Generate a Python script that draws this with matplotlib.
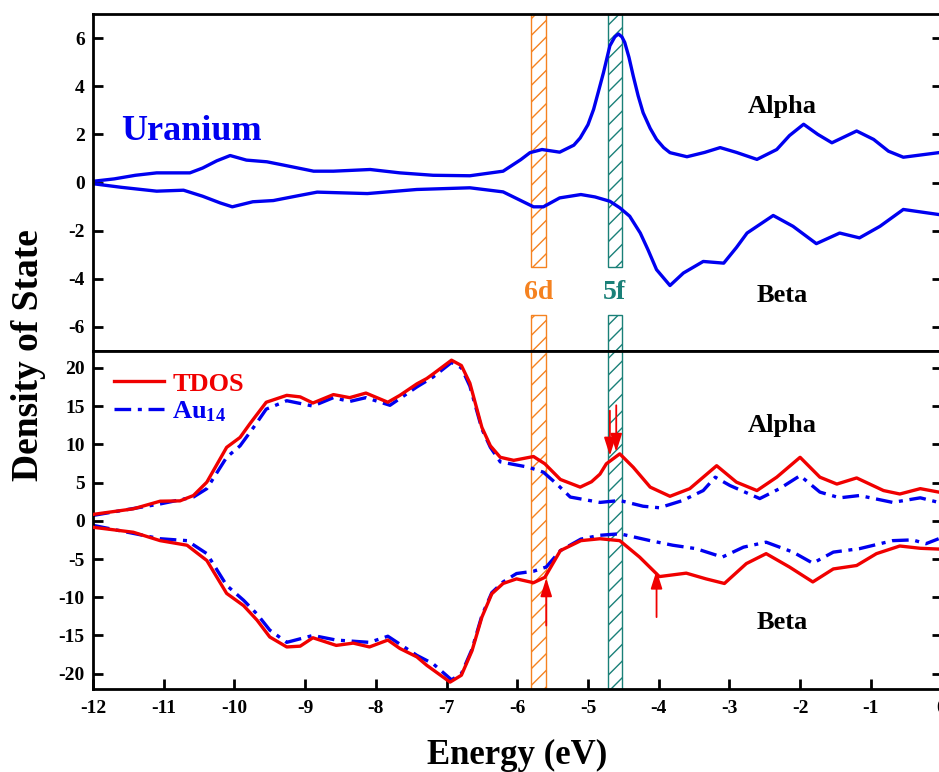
import matplotlib
matplotlib.use("Agg")
import matplotlib.pyplot as plt
from matplotlib.patches import Rectangle

plt.rcParams['font.family'] = ['Liberation Serif', 'DejaVu Serif']
plt.rcParams['font.weight'] = 'bold'
plt.rcParams['axes.unicode_minus'] = False
plt.rcParams['mathtext.fontset'] = 'custom'
plt.rcParams['mathtext.rm'] = 'Liberation Serif:bold'
plt.rcParams['mathtext.it'] = 'Liberation Serif:bold'
plt.rcParams['mathtext.bf'] = 'Liberation Serif:bold'

# top panel: uranium alpha / beta
e_u_alpha = [-12, -11.7, -11.4, -11.1, -10.63, -10.45, -10.25, -10.06, -9.83, -9.54, -9.3,
             -8.88, -8.6, -8.08, -7.66, -7.19, -6.67, -6.2, -5.95, -5.82, -5.65, -5.4,
             -5.2, -5.11, -5.0, -4.92, -4.85, -4.78, -4.69, -4.62, -4.57, -4.52, -4.48,
             -4.42, -4.36, -4.29, -4.22, -4.12, -4.03, -3.93, -3.84, -3.6, -3.35, -3.13,
             -2.9, -2.61, -2.33, -2.15, -1.95, -1.75, -1.55, -1.2, -0.96, -0.75, -0.54, -0.04]
u_alpha = [0.05, 0.15, 0.3, 0.4, 0.4, 0.6, 0.9, 1.12, 0.93, 0.86, 0.72,
           0.47, 0.47, 0.54, 0.4, 0.3, 0.28, 0.47, 0.95, 1.24, 1.37, 1.26,
           1.55, 1.85, 2.4, 3.04, 3.8, 4.57, 5.68, 6.05, 6.17, 6.05, 5.82,
           5.2, 4.43, 3.6, 2.9, 2.25, 1.79, 1.45, 1.24, 1.07, 1.25, 1.45,
           1.25, 0.96, 1.37, 1.95, 2.42, 2.0, 1.65, 2.14, 1.79, 1.3, 1.05, 1.24]

e_u_beta = [-12, -11.6, -11.1, -10.72, -10.45, -10.2, -10.03, -9.74, -9.45, -9.1, -8.83,
            -8.12, -7.42, -6.67, -6.2, -5.95, -5.77, -5.63, -5.4, -5.1, -4.9, -4.69,
            -4.55, -4.41, -4.26, -4.15, -4.03, -3.84, -3.65, -3.37, -3.08, -2.9, -2.75,
            -2.38, -2.1, -1.77, -1.44, -1.16, -0.87, -0.54, -0.04]
u_beta = [-0.05, -0.2, -0.36, -0.32, -0.57, -0.85, -1.01, -0.8, -0.75, -0.55, -0.4,
          -0.46, -0.29, -0.22, -0.39, -0.75, -1.01, -1.01, -0.64, -0.5, -0.6, -0.78,
          -1.05, -1.4, -2.1, -2.8, -3.62, -4.28, -3.76, -3.28, -3.35, -2.7, -2.1,
          -1.37, -1.82, -2.54, -2.1, -2.3, -1.82, -1.12, -1.33]

# bottom panel: TDOS and Au14
e_tdos_alpha = [-12, -11.43, -11.05, -10.77, -10.58, -10.39, -10.11, -9.92, -9.78, -9.55,
                -9.26, -9.07, -8.89, -8.6, -8.37, -8.14, -7.83, -7.66, -7.42, -7.28, -7.19,
                -6.93, -6.79, -6.67, -6.5, -6.38, -6.24, -6.05, -5.77, -5.61, -5.39, -5.11,
                -4.95, -4.83, -4.74, -4.55, -4.36, -4.12, -3.84, -3.56, -3.18, -2.9, -2.61,
                -2.33, -2.0, -1.72, -1.48, -1.2, -0.82, -0.59, -0.3, -0.04]
tdos_alpha = [0.83, 1.56, 2.56, 2.6, 3.3, 5.05, 9.6, 10.9, 12.7, 15.5,
              16.4, 16.2, 15.4, 16.5, 16.1, 16.7, 15.5, 16.4, 17.9, 18.6, 19.2,
              21.0, 20.3, 18.0, 12.2, 9.8, 8.3, 7.9, 8.4, 7.45, 5.4, 4.4,
              5.1, 6.1, 7.45, 8.75, 7.0, 4.4, 3.2, 4.2, 7.2, 5.05, 3.95,
              5.7, 8.3, 5.7, 4.8, 5.6, 3.95, 3.5, 4.2, 3.75]

e_au_alpha = [-12, -11.05, -10.58, -10.39, -10.11, -9.92, -9.73, -9.55, -9.26, -8.89,
              -8.6, -8.37, -8.14, -7.8, -7.42, -7.19, -6.93, -6.79, -6.67, -6.5, -6.38,
              -6.24, -5.84, -5.63, -5.44, -5.25, -4.83, -4.55, -4.22, -3.99, -3.66, -3.37,
              -3.2, -2.99, -2.57, -2.29, -2.0, -1.72, -1.44, -1.16, -0.69, -0.3, -0.04]
au_alpha = [0.7, 2.2, 3.1, 4.2, 8.3, 9.8, 12.2, 14.6, 15.7, 15.0,
            16.1, 15.6, 16.1, 15.1, 17.5, 18.8, 20.7, 20.0, 17.6, 12.0, 9.6,
            7.7, 7.0, 6.35, 4.8, 3.1, 2.4, 2.65, 1.9, 1.7, 2.65, 3.95,
            5.7, 4.6, 2.9, 4.2, 5.9, 3.75, 3.0, 3.3, 2.4, 3.0, 2.4]

e_tdos_beta = [-12, -11.43, -11.05, -10.67, -10.39, -10.11, -9.87, -9.68, -9.5, -9.26,
               -9.07, -8.89, -8.56, -8.32, -8.09, -7.83, -7.66, -7.42, -7.28, -6.95, -6.79,
               -6.64, -6.5, -6.36, -6.2, -6.01, -5.77, -5.61, -5.39, -5.1, -4.83, -4.55,
               -4.27, -3.99, -3.61, -3.33, -3.07, -2.76, -2.48, -2.15, -1.82, -1.53, -1.2,
               -0.92, -0.59, -0.3, -0.04]
tdos_beta = [-0.85, -1.5, -2.6, -3.2, -5.2, -9.5, -11.1, -13.0, -15.2, -16.5,
             -16.4, -15.3, -16.3, -16.0, -16.5, -15.6, -16.7, -17.8, -18.9, -21.1, -20.2,
             -17.0, -12.6, -9.55, -8.2, -7.6, -8.1, -7.4, -3.9, -2.6, -2.35, -2.6,
             -4.75, -7.3, -6.85, -7.6, -8.2, -5.6, -4.3, -6.05, -8.0, -6.3, -5.85,
             -4.3, -3.3, -3.6, -3.7]

e_au_beta = [-12, -11.05, -10.67, -10.39, -10.11, -9.87, -9.68, -9.5, -9.26, -8.89,
             -8.56, -8.09, -7.83, -7.42, -7.19, -6.93, -6.79, -6.64, -6.5, -6.36, -6.2,
             -6.01, -5.77, -5.59, -5.39, -5.1, -4.83, -4.55, -4.12, -3.8, -3.47, -3.1,
             -2.8, -2.48, -2.1, -1.82, -1.53, -1.16, -0.69, -0.41, -0.22, -0.04]
au_beta = [-0.6, -2.35, -2.6, -4.3, -8.45, -10.4, -12.2, -14.3, -15.9, -15.0,
           -15.6, -15.9, -15.1, -17.6, -18.7, -20.8, -20.0, -16.8, -12.4, -9.4, -8.0,
           -6.9, -6.6, -6.05, -3.9, -2.4, -1.9, -1.7, -2.6, -3.2, -3.65, -4.75,
           -3.45, -2.8, -4.1, -5.55, -4.1, -3.65, -2.6, -2.5, -3.0, -2.35]

# orbital bands
band_names = ['6d', '5f']
band_lo = [-5.8, -4.72]
band_hi = [-5.6, -4.52]
band_colors = ['#F58220', '#1A8078']

# red arrows (x, tail y, head y)
arrow_x = [-4.69, -4.60, -5.59, -4.03]
arrow_tail = [14.4, 15.1, -13.7, -12.6]
arrow_head = [8.5, 9.0, -7.5, -6.5]

blue = '#0000F0'
red = '#F00000'
dashdot = (0, (5, 2, 1.2, 2))

fig = plt.figure(figsize=(9.39, 7.72), dpi=100)
W, H = 939.0, 772.0
x0, x1 = 93 / W, 941.5 / W
ax1 = fig.add_axes([x0, (H - 351) / H, x1 - x0, 337 / H])
ax2 = fig.add_axes([x0, (H - 689) / H, x1 - x0, 338 / H])

ax1.plot(e_u_alpha, u_alpha, color=blue, lw=2.4, solid_joinstyle='round')
ax1.plot(e_u_beta, u_beta, color=blue, lw=2.4, solid_joinstyle='round')

ax2.plot(e_tdos_alpha, tdos_alpha, color=red, lw=2.4, label='TDOS', zorder=3,
         solid_joinstyle='round')
ax2.plot(e_au_alpha, au_alpha, color=blue, lw=2.4, ls=dashdot, label='Au$_{14}$', zorder=2)
ax2.plot(e_tdos_beta, tdos_beta, color=red, lw=2.4, zorder=3, solid_joinstyle='round')
ax2.plot(e_au_beta, au_beta, color=blue, lw=2.4, ls=dashdot, zorder=2)

for name, lo, hi, c in zip(band_names, band_lo, band_hi, band_colors):
    # top panel: band broken around the label
    ax1.add_patch(Rectangle((lo, -3.5), hi - lo, 10.5, fill=False, hatch='//',
                            edgecolor=c, lw=1.0, zorder=1))
    ax1.add_patch(Rectangle((lo, -7), hi - lo, 1.5, fill=False, hatch='//',
                            edgecolor=c, lw=1.0, zorder=1))
    ax1.text((lo + hi) / 2, -4.55, name, color=c, fontsize=20, ha='center',
             va='center', fontweight='bold')
    ax2.add_patch(Rectangle((lo, -22), hi - lo, 44.2, fill=False, hatch='//',
                            edgecolor=c, lw=1.0, zorder=1))

for xa, yt, yh in zip(arrow_x, arrow_tail, arrow_head):
    ax2.annotate('', xy=(xa, yh), xytext=(xa, yt),
                 arrowprops=dict(arrowstyle='-|>,head_length=1.1,head_width=0.35',
                                 color=red, lw=1.3, shrinkA=0, shrinkB=0), zorder=4)

ax1.text(-11.6, 2.1, 'Uranium', color=blue, fontsize=26, ha='left', va='center',
         fontweight='bold')
ax1.text(-2.25, 3.15, 'Alpha', fontsize=19, ha='center', va='center', fontweight='bold')
ax1.text(-2.25, -4.7, 'Beta', fontsize=19, ha='center', va='center', fontweight='bold')
ax2.text(-2.25, 12.4, 'Alpha', fontsize=19, ha='center', va='center', fontweight='bold')
ax2.text(-2.25, -13.3, 'Beta', fontsize=19, ha='center', va='center', fontweight='bold')

ax1.set_xlim(-12, 0)
ax2.set_xlim(-12, 0)
ax1.set_ylim(-7, 7)
ax2.set_ylim(-22, 22.2)
ax1.set_yticks([-6, -4, -2, 0, 2, 4, 6])
ax2.set_yticks([-20, -15, -10, -5, 0, 5, 10, 15, 20])
ax2.set_xticks(range(-12, 1))

for ax in (ax1, ax2):
    for s in ax.spines.values():
        s.set_linewidth(2.0)
    ax.tick_params(axis='y', direction='in', length=7, width=2, right=True,
                   labelsize=14, pad=6)
    ax.tick_params(axis='x', direction='in', length=7, width=2, labelsize=14, pad=8)
ax1.tick_params(axis='x', bottom=False, labelbottom=False)

leg = ax2.legend(loc='upper left', bbox_to_anchor=(0.0, 1.0), frameon=False,
                 handlelength=1.9, handletextpad=0.3, labelspacing=0.15,
                 borderaxespad=0.4, labelcolor='linecolor',
                 prop={'weight': 'bold', 'size': 19})

fig.text(517 / W, 1 - 755 / H, 'Energy (eV)', fontsize=25, ha='center', va='center',
         fontweight='bold')
fig.text(29 / W, 1 - 355 / H, 'Density of State', fontsize=27, ha='center',
         va='center', rotation=90, fontweight='bold')

fig.savefig('out.png', dpi=100)
